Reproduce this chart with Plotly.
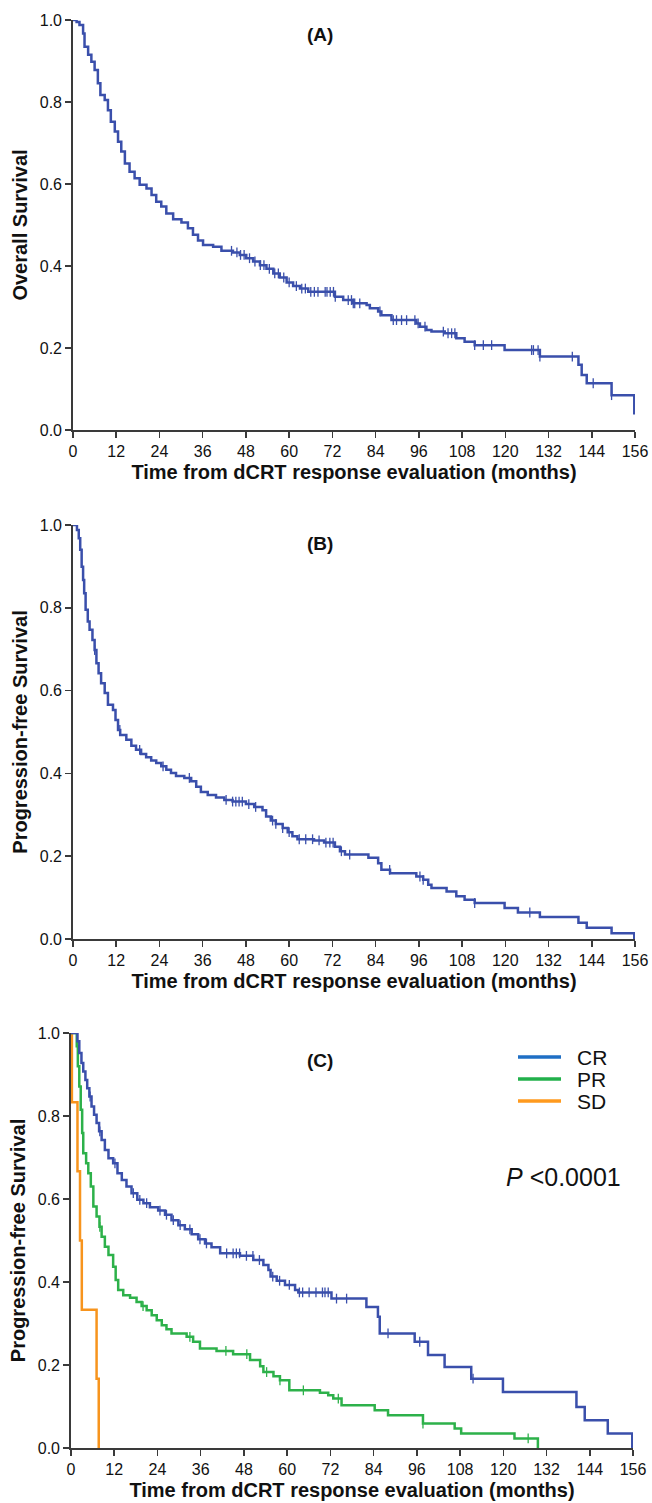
import numpy as np
import plotly.graph_objects as go

# ---------------- DATA ----------------
x_ticks = [0, 12, 24, 36, 48, 60, 72, 84, 96, 108, 120, 132, 144, 156]
y_ticks = [0.0, 0.2, 0.4, 0.6, 0.8, 1.0]

# Panel A: overall survival (step times / survival after step)
os_time = [0, 1.0, 1.8, 2.8, 3.2, 4.2, 5.1, 6.0, 6.9, 7.6, 8.8, 9.7, 10.5, 11.6, 12.5, 13.4, 14.4, 15.7,
           17.1, 18.5, 20.4, 21.8, 23.1, 24.5, 25.9, 27.8, 30.1, 31.9, 33.3, 34.7, 36.1, 38.9, 41.2,
           44.4, 46.3, 48.1, 50.0, 51.9, 53.7, 55.6, 57.4, 59.3, 61.1, 63.0, 65.3, 72.7, 75.0, 77.8,
           81.5, 82.4, 84.7, 85.6, 88.4, 95.3, 96.3, 98.1, 99.5, 103.2, 106.4, 108.7, 111.5, 119.8,
           129.6, 140.3, 141.2, 142.6, 149.5, 155.8, 156]
os_surv = [1.0, 0.995, 0.988, 0.967, 0.935, 0.915, 0.898, 0.878, 0.846, 0.817, 0.805, 0.780, 0.752, 0.728,
           0.703, 0.679, 0.650, 0.630, 0.614, 0.598, 0.589, 0.573, 0.557, 0.545, 0.528, 0.514, 0.506,
           0.492, 0.476, 0.462, 0.451, 0.447, 0.437, 0.433, 0.427, 0.419, 0.411, 0.402, 0.393, 0.382,
           0.372, 0.360, 0.351, 0.345, 0.337, 0.325, 0.317, 0.309, 0.305, 0.297, 0.289, 0.280, 0.268,
           0.260, 0.252, 0.244, 0.240, 0.236, 0.224, 0.215, 0.207, 0.195, 0.179, 0.159, 0.134, 0.114,
           0.085, 0.041, 0.041]
os_censor = [44.0, 45.5, 46.5, 47.5, 49.0, 50.5, 52.0, 53.0, 54.5, 56.0, 57.0, 58.5, 60.0, 62.0, 63.5,
             64.5, 66.0, 67.0, 68.0, 70.0, 70.5, 71.4, 72.3, 72.8, 76.4, 77.3, 77.8, 78.2, 79.6, 85.2,
             88.9, 89.8, 91.2, 92.6, 94.9, 95.8, 97.7, 102.8, 104.1, 105.1, 106.0, 111.5, 113.9, 116.2,
             127.3, 127.8, 129.1, 129.6, 138.6, 144.4, 149.5]

# Panel B: progression-free survival
pfs_time = [0, 1.1, 1.6, 2.0, 2.4, 2.8, 3.1, 3.5, 4.1, 4.6, 5.4, 6.0, 6.5, 7.1, 7.8, 8.8, 9.7, 11.1, 11.8,
            12.5, 13.1, 14.8, 16.2, 17.5, 18.9, 20.3, 21.7, 23.1, 24.5, 25.9, 27.2, 28.6, 30.9, 32.8,
            34.2, 35.5, 37.4, 39.7, 42.0, 44.3, 48.0, 50.3, 52.6, 53.6, 54.9, 56.3, 58.2, 59.6, 60.9,
            62.3, 66.9, 69.7, 72.7, 74.1, 75.5, 82.0, 84.7, 85.6, 88.0, 95.3, 97.2, 98.6, 99.5, 103.7,
            106.4, 108.7, 111.5, 119.8, 123.5, 129.6, 140.3, 142.6, 149.5, 155.8, 156]
pfs_surv = [1.0, 0.988, 0.968, 0.940, 0.899, 0.867, 0.835, 0.795, 0.767, 0.747, 0.722, 0.698, 0.666, 0.642,
            0.618, 0.594, 0.566, 0.553, 0.529, 0.505, 0.493, 0.481, 0.467, 0.457, 0.447, 0.439, 0.431,
            0.425, 0.417, 0.409, 0.401, 0.394, 0.389, 0.381, 0.368, 0.355, 0.348, 0.342, 0.336, 0.332,
            0.326, 0.319, 0.311, 0.296, 0.286, 0.278, 0.268, 0.258, 0.248, 0.241, 0.238, 0.233, 0.223,
            0.212, 0.204, 0.196, 0.183, 0.167, 0.159, 0.151, 0.143, 0.131, 0.123, 0.115, 0.103, 0.095,
            0.087, 0.075, 0.064, 0.053, 0.039, 0.027, 0.014, 0.0, 0.0]
pfs_censor = [6.0, 13.0, 18.5, 25.0, 32.3, 42.5, 44.3, 45.2, 46.1, 47.0, 48.8, 50.7, 55.4, 56.3, 58.2,
              60.0, 62.8, 64.6, 66.5, 68.3, 70.2, 71.3, 72.2, 74.5, 76.8, 87.9, 96.3, 97.2, 111.5, 126.8]

# Panel C: PFS by response group
cr_time = [0, 1.1, 1.8, 2.3, 2.9, 3.4, 4.0, 4.5, 5.1, 5.7, 6.4, 7.1, 7.8, 8.5, 9.4, 10.4, 11.7, 12.9, 14.1,
           15.4, 16.8, 18.4, 20.1, 21.9, 24.2, 26.1, 27.9, 29.8, 31.6, 33.5, 35.3, 37.2, 39.0, 41.4, 46.9,
           50.6, 53.4, 54.8, 55.4, 57.1, 59.4, 62.2, 63.1, 72.3, 82.0, 85.2, 85.7, 95.4, 99.1, 103.7,
           111.1, 119.9, 140.3, 142.6, 149.0, 155.8, 156]
cr_surv = [1.0, 1.0, 0.980, 0.952, 0.928, 0.907, 0.887, 0.867, 0.847, 0.823, 0.803, 0.783, 0.763, 0.742,
           0.718, 0.698, 0.686, 0.662, 0.646, 0.630, 0.614, 0.598, 0.590, 0.580, 0.572, 0.562, 0.549,
           0.537, 0.527, 0.515, 0.503, 0.493, 0.484, 0.469, 0.463, 0.453, 0.441, 0.429, 0.413, 0.403,
           0.393, 0.381, 0.375, 0.360, 0.340, 0.316, 0.276, 0.256, 0.224, 0.195, 0.167, 0.135, 0.099,
           0.067, 0.035, 0.0, 0.0]
cr_censor = [5.3, 8.0, 12.2, 17.3, 19.1, 21.0, 24.7, 26.5, 28.4, 30.3, 33.0, 35.8, 37.6, 43.2, 45.0, 45.9,
             46.8, 48.7, 50.5, 52.3, 56.0, 57.9, 60.6, 63.4, 64.3, 66.1, 68.0, 69.8, 70.5, 71.4, 73.7,
             76.5, 88.0, 96.8, 111.6]

pr_time = [0, 1.1, 1.6, 1.9, 2.3, 2.7, 3.1, 3.4, 4.2, 4.8, 5.5, 6.2, 7.1, 7.9, 8.5, 9.4, 10.4, 11.7, 12.4,
           13.1, 14.5, 16.4, 18.2, 19.6, 21.0, 22.4, 23.8, 25.2, 26.5, 27.9, 32.1, 33.9, 35.8, 40.4, 45.0,
           49.7, 52.5, 53.4, 56.2, 58.0, 60.6, 69.1, 71.4, 72.8, 75.1, 84.3, 88.0, 97.7, 106.5, 108.3,
           123.1, 129.6]
pr_surv = [1.0, 1.0, 0.968, 0.920, 0.871, 0.815, 0.759, 0.710, 0.686, 0.662, 0.630, 0.582, 0.558, 0.533,
           0.509, 0.485, 0.465, 0.437, 0.405, 0.381, 0.368, 0.362, 0.352, 0.342, 0.332, 0.320, 0.308,
           0.296, 0.286, 0.276, 0.268, 0.256, 0.240, 0.234, 0.226, 0.212, 0.197, 0.183, 0.173, 0.163,
           0.139, 0.133, 0.127, 0.119, 0.103, 0.091, 0.079, 0.059, 0.047, 0.035, 0.023, 0.0]
pr_censor = [8.0, 20.0, 33.0, 43.0, 48.8, 54.3, 58.0, 64.5, 74.2, 97.7, 126.9]

sd_time = [0, 0.25, 1.8, 2.5, 3.0, 7.1, 7.7]
sd_surv = [1.0, 0.833, 0.667, 0.5, 0.333, 0.167, 0.0]

group_names = ["CR", "PR", "SD"]
panel_labels = ["(A)", "(B)", "(C)"]
y_titles = ["Overall Survival", "Progression-free Survival", "Progression-free Survival"]
x_title = "Time from dCRT response evaluation (months)"
p_text = "<i>P</i> <0.0001"

# ---------------- STYLE ----------------
W, H = 652, 1503
FONT = "Arial, 'Liberation Sans', sans-serif"
CURVE_BLUE = "#3a4fab"
CURVE_GREEN = "#2db14a"
CURVE_ORANGE = "#f7941d"
LEG_COLORS = ["#1f6fc5", "#22b04b", "#ff9a1e"]
AXIS_COL = "#3a3a3a"


def py(px):
    return 1 - px / H


def px_x(px):
    return px / W


# pixel geometry of each panel: (x0, x1, y_top(1.0), y_bottom(0.0))
panels = [(73, 635, 20, 430), (73, 635, 525, 939), (71, 633, 1033, 1448)]
label_y = [34, 543, 1060]


def surv_at(times, survs, t):
    idx = np.searchsorted(np.asarray(times), t, side="right") - 1
    return np.asarray(survs)[np.clip(idx, 0, len(survs) - 1)]


fig = go.Figure()
layout = {}


def add_curve(i, times, survs, color, censor=None, width=2.5):
    xa = "x" if i == 0 else f"x{i+1}"
    ya = "y" if i == 0 else f"y{i+1}"
    fig.add_trace(go.Scatter(x=times, y=survs, mode="lines", line=dict(color=color, width=width, shape="hv"),
                             xaxis=xa, yaxis=ya, showlegend=False, hoverinfo="skip"))
    if censor:
        cy = surv_at(times, survs, censor)
        fig.add_trace(go.Scatter(x=censor, y=cy, mode="markers",
                                 marker=dict(symbol="line-ns", size=7, line=dict(color=color, width=1.3)),
                                 xaxis=xa, yaxis=ya, showlegend=False, hoverinfo="skip", cliponaxis=False))


add_curve(0, os_time, os_surv, CURVE_BLUE, os_censor)
add_curve(1, pfs_time, pfs_surv, CURVE_BLUE, pfs_censor)
add_curve(2, sd_time, sd_surv, CURVE_ORANGE, None)
add_curve(2, pr_time, pr_surv, CURVE_GREEN, pr_censor)
add_curve(2, cr_time, cr_surv, CURVE_BLUE, cr_censor)

annotations = []
shapes = []
for i, (x0, x1, yt, yb) in enumerate(panels):
    xk = "xaxis" if i == 0 else f"xaxis{i+1}"
    yk = "yaxis" if i == 0 else f"yaxis{i+1}"
    anchor_x = "y" if i == 0 else f"y{i+1}"
    anchor_y = "x" if i == 0 else f"x{i+1}"
    layout[xk] = dict(domain=[px_x(x0), px_x(x1)], anchor=anchor_x, range=[0, 156], automargin=False,
                      tickvals=x_ticks, ticktext=[str(v) for v in x_ticks],
                      showline=True, linecolor=AXIS_COL, linewidth=1.8, ticks="outside",
                      ticklen=6, tickwidth=1.5, tickcolor=AXIS_COL, showgrid=False, zeroline=False,
                      tickfont=dict(family=FONT, size=16, color="#111"),
                      title=dict(text=f"<b>{x_title}</b>", font=dict(family=FONT, size=20, color="#111"),
                                 standoff=6))
    layout[yk] = dict(domain=[py(yb), py(yt)], anchor=anchor_y, range=[0, 1.0], automargin=False,
                      tickvals=y_ticks, ticktext=[f"{v:.1f}" for v in y_ticks],
                      showline=True, linecolor=AXIS_COL, linewidth=1.8, ticks="outside",
                      ticklen=6, tickwidth=1.5, tickcolor=AXIS_COL, showgrid=False, zeroline=False,
                      tickfont=dict(family=FONT, size=16, color="#111"),
                      title=dict(text=f"<b>{y_titles[i]}</b>", font=dict(family=FONT, size=20, color="#111"),
                                 standoff=7))
    annotations.append(dict(text=f"<b>{panel_labels[i]}</b>", x=px_x(320), y=py(label_y[i]),
                            xref="paper", yref="paper", showarrow=False, yanchor="middle",
                            font=dict(family=FONT, size=19, color="#111")))

# P value
annotations.append(dict(text=p_text, x=px_x(504), y=py(1177), xref="paper", yref="paper", xanchor="left",
                        yanchor="middle", showarrow=False, font=dict(family=FONT, size=25, color="#111")))

# legend (drawn as key lines + labels)
leg_y = [1057, 1079, 1101]
for name, col, ly in zip(group_names, LEG_COLORS, leg_y):
    shapes.append(dict(type="line", xref="paper", yref="paper", x0=px_x(518), x1=px_x(561),
                       y0=py(ly), y1=py(ly), line=dict(color=col, width=3.5)))
    annotations.append(dict(text=name, x=px_x(575), y=py(ly), xref="paper", yref="paper", xanchor="left",
                            yanchor="middle", showarrow=False, font=dict(family=FONT, size=21, color="#111")))

fig.update_layout(
    width=W, height=H, margin=dict(l=0, r=0, t=0, b=0, autoexpand=False),
    paper_bgcolor="white", plot_bgcolor="white",
    annotations=annotations, shapes=shapes,
    showlegend=False,
    **layout,
)

fig.write_html("out.html", config={"displayModeBar": False, "staticPlot": True},
               post_script="document.body.style.margin='0';document.body.style.overflow='hidden';")
